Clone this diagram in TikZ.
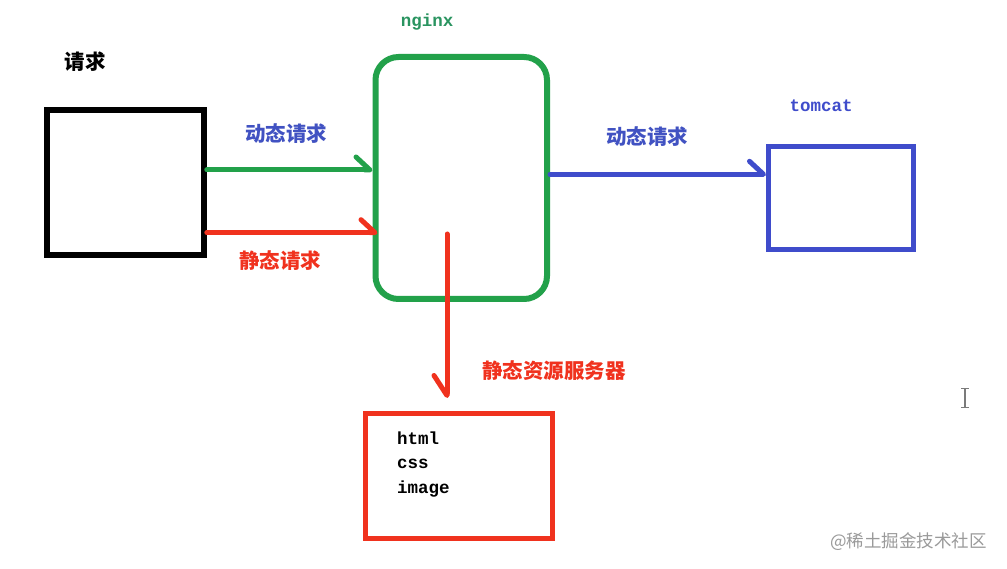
\documentclass[tikz,border=0pt]{standalone}
\usepackage{fontspec}
\setmonofont{Liberation Mono}
\newfontfamily\cjk{Noto Sans CJK SC}
\usetikzlibrary{arrows.meta}
\definecolor{gline}{HTML}{22A14A}
\definecolor{gtext}{HTML}{2A9460}
\definecolor{bline}{HTML}{3F4CCB}
\definecolor{btext}{HTML}{4152C2}
\definecolor{rline}{HTML}{F0321E}
\definecolor{wm}{HTML}{9A9A9A}
\tikzset{
  box/.style={draw, line width=5pt, inner sep=0pt},
  cnlabel/.style={font=\cjk\bfseries\fontsize{20.5}{24}\selectfont, inner sep=0pt},
  mono/.style={font=\ttfamily\bfseries\fontsize{17.5}{24.5}\selectfont, inner sep=0pt},
  barb/.style={line width=5pt, line cap=round,
    -{Straight Barb[harpoon, round, length=14pt, width=26pt]}},
  barbsw/.style={line width=5pt, line cap=round,
    -{Straight Barb[harpoon, swap, round, length=20pt, width=26pt]}},
}
\begin{document}
\begin{tikzpicture}[x=1pt,y=-1pt]
\useasboundingbox[fill=white] (0,0) rectangle (1007,569);

% boxes
\node[box, line width=5.5pt, minimum width=157pt, minimum height=145pt] (req) at (125.5,182.5) {};
\node[box, draw=gline, line width=6pt, rounded corners=23pt, minimum width=171.5pt, minimum height=242pt] (nginx) at (461.25,178) {};
\node[box, draw=bline, minimum width=145pt, minimum height=103pt] (tomcat) at (841,198) {};
\node[box, draw=rline, minimum width=187.5pt, minimum height=125pt] (static) at (458.75,475.5) {};

% labels
\node[cnlabel] (lreq) at (85,62) {请求};
\node[mono, text=gtext] (lnginx) at (427,22) {nginx};
\node[mono, text=bline] (ltomcat) at (821,106) {tomcat};
\node[cnlabel, text=btext] (ldyn1) at (286,134) {动态请求};
\node[cnlabel, text=rline] (lsta1) at (280,261) {静态请求};
\node[cnlabel, text=btext] (ldyn2) at (647,136.5) {动态请求};
\node[cnlabel, text=rline] (lsrv) at (554,371) {静态资源服务器};
\node[mono, align=left, anchor=base west] (files) at (397,493) {html\\css\\image};

% connectors
\coordinate (s0) at (447,234);
\coordinate (s1) at (447,398);
\draw[barb, gline] (req.east |- 0,170) -- (nginx.west |- 0,170);
\draw[barb, rline] (req.east |- 0,232.7) -- ([xshift=5pt]nginx.west |- 0,232.7);
\draw[barb, bline] (nginx.east |- 0,174.3) -- (tomcat.west |- 0,174.3);
\draw[barbsw, rline] (s0) -- (s1);

% text cursor
\draw[wm!80!black, line width=1.4pt] (965,388.5) -- (965,407.5)
  (961,388.5) -- (969,388.5) (961,407.5) -- (969,407.5);

% watermark
\node[font=\cjk\fontsize{17.5}{20}\selectfont, text=wm, inner sep=0pt] (wmark) at (908.5,541.5) {@稀土掘金技术社区};
\end{tikzpicture}
\end{document}
